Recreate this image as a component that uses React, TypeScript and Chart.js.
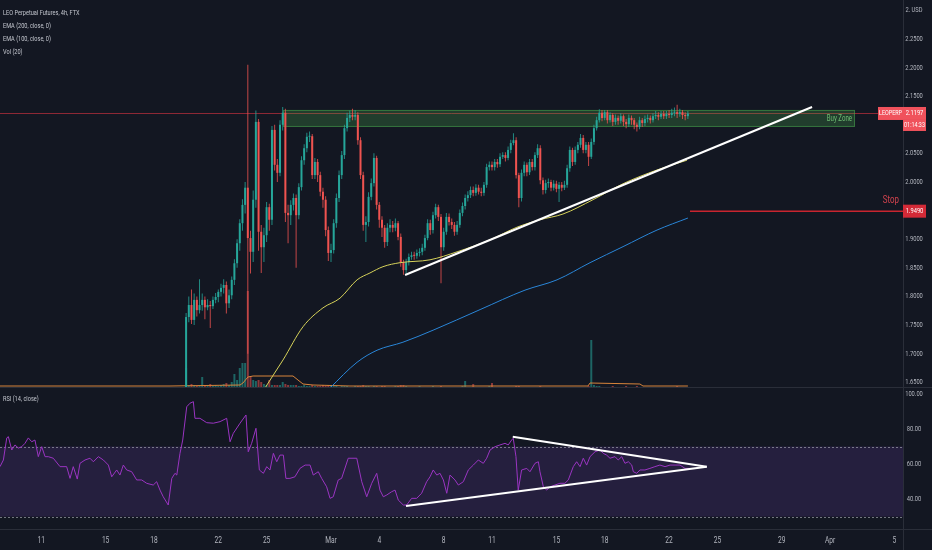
import React, { useEffect, useRef } from 'react';
import { Chart, registerables } from 'chart.js';
Chart.register(...registerables);

// ---------- DATA ----------
const CANDLE_START = -9; // days from Mar 1 00:00 (Feb 20 00:00)
const CANDLE_STEP = 1 / 6; // 4h candles
const firstOpen = 1.64;
const closes = [
  1.764,1.785,1.759,1.794,1.776,1.785,1.794,1.781,1.785,1.783,
  1.794,1.799,1.808,1.815,1.820,1.788,1.802,1.829,1.858,1.893,
  1.928,1.960,1.990,1.902,1.878,1.969,2.105,1.913,1.886,1.907,
  1.956,1.934,2.091,2.030,2.016,2.100,2.121,1.946,1.942,1.960,
  1.972,1.942,1.991,2.038,2.059,2.079,2.080,2.012,2.035,2.012,
  1.983,1.969,1.916,1.876,1.881,1.928,1.972,2.012,2.047,2.094,
  2.112,2.117,2.114,2.117,2.073,2.012,1.925,1.930,1.974,1.998,
  2.042,1.960,1.934,1.920,1.895,1.920,1.925,1.920,1.928,1.904,
  1.860,1.846,1.860,1.869,1.872,1.871,1.876,1.878,1.885,1.902,
  1.928,1.916,1.942,1.956,1.939,1.886,1.913,1.939,1.930,1.925,
  1.913,1.925,1.946,1.958,1.972,1.977,1.986,1.981,1.990,1.983,
  1.981,1.995,2.026,2.030,2.026,2.035,2.031,2.044,2.047,2.042,
  2.056,2.068,2.073,2.012,1.972,2.016,2.030,2.017,2.035,2.026,
  2.047,2.059,2.003,1.986,1.998,2.000,1.990,1.997,1.988,1.995,
  1.990,1.995,2.024,2.056,2.035,2.056,2.065,2.077,2.056,2.065,
  2.044,2.070,2.094,2.108,2.121,2.112,2.122,2.108,2.117,2.105,
  2.112,2.107,2.115,2.105,2.101,2.112,2.108,2.100,2.096,2.108,
  2.103,2.110,2.112,2.108,2.115,2.117,2.114,2.119,2.115,2.119,
  2.117,2.121,2.122,2.119,2.122,2.117,2.115,2.1197,
];
const highs = [
  1.771,1.800,1.812,1.805,1.800,1.830,1.805,1.800,1.795,1.792,
  1.800,1.806,1.812,1.822,1.830,1.826,1.812,1.835,1.865,1.900,
  1.935,1.970,2.000,2.205,1.915,1.985,2.125,2.110,1.925,1.920,
  1.965,1.962,2.098,2.100,2.040,2.108,2.131,2.128,1.960,1.968,
  1.980,1.978,1.998,2.045,2.066,2.086,2.088,2.084,2.042,2.040,
  2.018,1.990,1.975,1.922,1.892,1.935,1.980,2.020,2.054,2.100,
  2.121,2.125,2.128,2.126,2.122,2.078,2.018,1.940,1.982,2.006,
  2.050,2.046,1.965,1.940,1.925,1.928,1.935,1.932,1.936,1.932,
  1.910,1.864,1.866,1.875,1.878,1.878,1.882,1.884,1.892,1.908,
  1.935,1.934,1.948,1.962,1.960,1.944,1.920,1.946,1.945,1.936,
  1.930,1.932,1.952,1.964,1.978,1.984,1.992,1.992,1.996,1.995,
  1.990,2.000,2.032,2.036,2.036,2.040,2.040,2.050,2.052,2.052,
  2.062,2.074,2.085,2.078,2.016,2.022,2.036,2.034,2.040,2.040,
  2.052,2.066,2.064,2.008,2.004,2.006,2.004,2.003,2.002,2.000,
  2.000,2.002,2.030,2.062,2.060,2.062,2.070,2.084,2.082,2.070,
  2.070,2.076,2.100,2.114,2.127,2.126,2.126,2.126,2.122,2.120,
  2.118,2.116,2.120,2.118,2.110,2.118,2.116,2.112,2.104,2.114,
  2.112,2.116,2.118,2.116,2.120,2.124,2.122,2.124,2.124,2.124,
  2.126,2.128,2.130,2.135,2.128,2.126,2.122,2.124,
];
const lows = [
  1.638,1.755,1.752,1.750,1.765,1.770,1.775,1.760,1.776,1.745,
  1.778,1.788,1.790,1.800,1.805,1.770,1.780,1.795,1.820,1.850,
  1.880,1.915,1.945,1.700,1.840,1.860,1.955,1.880,1.841,1.860,
  1.895,1.915,1.925,2.020,2.000,2.010,2.090,1.930,1.893,1.925,
  1.950,1.850,1.935,1.985,2.030,2.052,2.070,2.005,2.005,2.000,
  1.975,1.955,1.905,1.862,1.860,1.875,1.920,1.965,2.005,2.040,
  2.088,2.105,2.108,2.108,2.065,2.005,1.915,1.895,1.922,1.968,
  1.992,1.952,1.920,1.904,1.885,1.888,1.912,1.912,1.914,1.898,
  1.852,1.838,1.840,1.854,1.864,1.864,1.866,1.870,1.872,1.880,
  1.898,1.908,1.910,1.936,1.932,1.823,1.880,1.908,1.924,1.918,
  1.906,1.908,1.920,1.940,1.952,1.966,1.972,1.975,1.976,1.978,
  1.975,1.976,1.990,2.020,2.020,2.020,2.025,2.026,2.040,2.036,
  2.038,2.050,2.064,2.006,1.956,1.966,2.010,2.010,2.012,2.020,
  2.020,2.042,1.996,1.978,1.980,1.990,1.984,1.985,1.982,1.965,
  1.984,1.986,1.990,2.018,2.028,2.030,2.050,2.060,2.050,2.050,
  2.028,2.040,2.065,2.090,2.104,2.106,2.108,2.102,2.104,2.098,
  2.100,2.100,2.102,2.098,2.094,2.096,2.100,2.092,2.088,2.092,
  2.096,2.098,2.104,2.102,2.104,2.110,2.108,2.110,2.110,2.110,
  2.112,2.112,2.115,2.112,2.114,2.110,2.108,2.110,
];
const volumes = [
  20,3,4,3,2,3,11,3,2,4,
  2,3,2,3,4,5,3,6,14,8,
  20,25,25,97,12,8,7,8,6,4,
  3,8,3,3,3,3,6,4,3,3,
  3,3,2,2,3,2,2,3,2,2,
  2,3,2,3,2,2,2,1,2,2,
  2,1,1,2,2,2,3,2,2,1,
  2,2,1,2,2,1,1,1,2,2,
  3,3,2,1,1,1,1,2,1,1,
  1,1,2,1,1,2,1,1,1,1,
  1,1,1,2,7,1,1,4,1,1,
  1,1,1,2,5,1,1,1,1,1,
  1,1,1,2,2,1,1,1,1,1,
  1,1,2,1,1,1,1,1,1,1,
  1,1,1,1,1,1,1,1,1,1,
  2,48,3,2,2,1,1,1,1,2,
  1,1,1,1,2,1,1,1,2,1,
  1,1,1,1,1,1,1,1,1,1,
  1,1,1,2,1,1,1,1,
];
const volMA = [
  [-20.56,2],[-10.0,2],[-5.65,3],[-5.47,5],[-5.16,11],[-4.84,12],[-2.36,12],[-2.05,8],
  [-1.74,4],[-1.12,3],[1.18,2],[15.96,2],[16.09,5],[19.19,4],[19.38,2],[22.17,2],
];
const ema100 = [
  [-4.29,1.631],[-4.10,1.640],[-2.98,1.689],[-1.74,1.747],[-0.50,1.780],[0.56,1.797],
  [1.62,1.829],[2.42,1.841],[3.23,1.852],[4.29,1.859],[6.15,1.864],[7.83,1.878],
  [9.88,1.899],[11.55,1.921],[12.98,1.934],[14.41,1.944],[16.27,1.969],[18.14,1.997],
  [20.25,2.021],[22.11,2.038],
];
const ema200 = [
  [-0.31,1.633],[-0.06,1.640],[1.62,1.685],[2.86,1.706],[4.47,1.720],[6.34,1.741],
  [9.26,1.777],[12.05,1.811],[14.04,1.829],[16.09,1.859],[18.14,1.887],[20.25,1.916],
  [22.17,1.937],
];
const rsi = [
  [-20.56,58.5],[-20.35,62.3],[-20.14,74.9],[-20.04,75.6],[-19.83,68.0],[-19.63,70.9],[-19.42,69.1],
  [-19.21,69.9],[-19.01,71.8],[-18.80,74.9],[-18.59,72.7],[-18.39,73.7],[-18.18,64.2],[-17.97,69.9],
  [-17.76,64.2],[-17.56,64.2],[-17.25,63.3],[-16.83,58.5],[-16.42,58.5],[-16.21,51.8],[-16.01,58.5],
  [-15.76,51.4],[-15.59,60.4],[-15.28,62.3],[-14.97,63.3],[-14.76,61.3],[-14.45,64.2],[-14.14,62.3],
  [-13.83,59.4],[-13.62,52.7],[-13.31,56.6],[-13.11,53.7],[-12.90,59.4],[-12.69,56.6],[-12.38,55.6],
  [-12.07,50.9],[-11.76,50.9],[-11.45,49.0],[-11.04,48.0],[-10.83,49.9],[-10.62,45.1],[-10.42,41.3],
  [-10.11,36.6],[-9.89,51.8],[-9.69,54.7],[-9.58,53.7],[-9.38,66.1],[-9.21,73.7],[-8.96,92.7],
  [-8.76,94.7],[-8.55,95.6],[-8.45,86.1],[-8.14,86.1],[-7.72,83.6],[-7.31,83.3],[-6.89,84.2],
  [-6.48,86.1],[-6.27,72.7],[-6.07,77.5],[-5.65,83.3],[-5.28,88.0],[-5.14,67.0],[-4.93,71.8],
  [-4.66,80.4],[-4.45,56.6],[-4.20,54.7],[-3.99,58.5],[-3.79,56.6],[-3.58,66.1],[-3.37,61.3],
  [-3.17,65.1],[-2.96,65.1],[-2.80,51.8],[-2.55,51.8],[-2.24,52.7],[-1.93,57.5],[-1.61,59.4],
  [-1.30,59.4],[-1.10,53.7],[-0.79,55.6],[-0.58,51.8],[-0.27,47.0],[-0.06,40.4],[0.14,41.3],
  [0.45,50.9],[0.66,51.8],[1.07,63.3],[1.60,63.3],[1.91,49.9],[2.22,41.3],[2.53,49.0],
  [2.84,54.7],[3.04,45.1],[3.25,41.3],[3.46,42.3],[3.77,44.2],[3.98,45.1],[4.18,39.4],
  [4.49,36.6],[4.70,36.6],[5.01,40.4],[5.32,40.4],[5.63,43.3],[5.94,49.9],[6.15,52.7],
  [6.35,56.6],[6.57,53.7],[6.77,54.7],[6.98,50.9],[7.19,43.3],[7.39,53.7],[7.70,50.9],
  [7.91,48.0],[8.22,49.9],[8.53,56.6],[8.84,59.4],[9.15,62.3],[9.46,60.4],[9.67,63.3],
  [9.88,68.0],[10.19,69.9],[10.50,70.9],[10.81,71.8],[11.01,70.9],[11.22,73.7],[11.32,74.7],
  [11.49,64.2],[11.63,45.1],[11.84,56.6],[12.16,57.5],[12.36,55.6],[12.67,60.4],[12.88,61.3],
  [12.98,55.6],[13.19,47.0],[13.40,45.1],[13.60,47.0],[13.91,48.0],[14.22,49.0],[14.53,49.0],
  [14.74,50.9],[15.05,58.5],[15.26,61.3],[15.47,58.5],[15.67,63.3],[15.88,59.4],[16.09,64.2],
  [16.40,67.0],[16.71,68.0],[16.91,66.1],[17.12,65.1],[17.33,63.3],[17.64,64.2],[17.84,62.3],
  [18.06,64.2],[18.26,60.4],[18.47,61.3],[18.68,59.4],[18.78,55.6],[18.99,54.7],[19.19,56.6],
  [19.50,56.6],[19.81,57.5],[20.12,58.5],[20.43,59.4],[20.75,58.5],[21.06,59.4],[21.37,59.4],
  [21.68,59.4],[21.99,57.5],[22.30,57.5],
];
const mainTrend = [[4.6,1.8374],[29.88,2.1311]];
const rsiLower = [[4.66,36.0],[23.34,58.5]];
const rsiUpper = [[11.29,75.6],[23.34,58.5]];
const buyZoneTime = [-2.98, 32.55];
const buyZonePrice = [2.0962, 2.1259];
const stopLevel = 1.949;
const stopFrom = 22.3;
const lastPrice = 2.1197;
const X_RANGE = [-20.56, 35.53];
const PRICE_RANGE = [1.64, 2.318];
const RSI_RANGE = [22.9, 103.4];
const xTickDays = [-18,-14,-11,-7,-4,0,3,7,10,14,17,21,24,28,31,35];
const xTickLabels = ['11','15','18','22','25','Mar','4','8','11','15','18','22','25','29','Apr','5'];
const priceTicks = [2.3,2.25,2.2,2.15,2.05,2.0,1.9,1.85,1.8,1.75,1.7,1.65];
const priceTickLabels = ['2. USD','2.2500','2.2000','2.1500','2.0500','2.0000','1.9000','1.8500','1.8000','1.7500','1.7000','1.6500'];
const rsiTicks = [100,80,60,40];
const legendLines = ['LEO Perpetual Futures, 4h, FTX','EMA (200, close, 0)','EMA (100, close, 0)','Vol (20)'];

// ---------- STYLE ----------
const BG = '#131722';
const UP = '#26a69a';
const DN = '#ef5350';
const TXT = '#b2b5be';
const SEP = '#2a2e39';
const FONT = 'Roboto, "Noto Sans", sans-serif';

function txt(ctx: CanvasRenderingContext2D, s: string, x: number, y: number, size: number, color: string, align: 'left'|'center'|'right' = 'left', sx = 0.78) {
  ctx.save();
  ctx.font = `${size}px ${FONT}`;
  ctx.fillStyle = color;
  ctx.textBaseline = 'middle';
  ctx.textAlign = 'left';
  const w = ctx.measureText(s).width * sx;
  const x0 = align === 'left' ? x : align === 'right' ? x - w : x - w / 2;
  ctx.translate(x0, y);
  ctx.scale(sx, 1);
  ctx.fillText(s, 0, 0);
  ctx.restore();
}

const times = closes.map((_, k) => CANDLE_START + k * CANDLE_STEP);
const opens = closes.map((_, k) => (k === 0 ? firstOpen : closes[k - 1]));
const isUp = closes.map((c, k) => c >= opens[k]);
const pts = (arr: number[][]) => arr.map(([x, y]) => ({ x, y }));

const mainPlugin = {
  id: 'mainDeco',
  beforeDatasetsDraw(chart: any) {
    const { ctx, chartArea: a, scales } = chart;
    const xs = scales.x, ys = scales.y;
    ctx.save();
    const py = Math.round(ys.getPixelForValue(lastPrice)) + 0.5;
    ctx.strokeStyle = 'rgba(242,54,69,0.55)';
    ctx.lineWidth = 1;
    ctx.beginPath(); ctx.moveTo(a.left, py); ctx.lineTo(a.right, py); ctx.stroke();
    const x1 = xs.getPixelForValue(buyZoneTime[0]), x2 = xs.getPixelForValue(buyZoneTime[1]);
    const y1 = ys.getPixelForValue(buyZonePrice[1]), y2 = ys.getPixelForValue(buyZonePrice[0]);
    ctx.fillStyle = 'rgba(76,175,80,0.25)';
    ctx.fillRect(x1, y1, x2 - x1, y2 - y1);
    ctx.strokeStyle = 'rgba(76,175,80,0.5)';
    ctx.strokeRect(x1 + 0.5, y1 + 0.5, x2 - x1 - 1, y2 - y1 - 1);
    ctx.restore();
  },
  afterDraw(chart: any) {
    const { ctx, chartArea: a, scales } = chart;
    const xs = scales.x, ys = scales.y;
    ctx.save();
    ctx.fillStyle = SEP;
    ctx.fillRect(a.right, 0, 1, chart.height);
    ctx.fillRect(0, chart.height - 1, chart.width, 1);
    ctx.restore();
    legendLines.forEach((s, i) => txt(ctx, s, 3, 12.5 + i * 13, 8, '#c3c6ce', 'left', 0.7));
    priceTicks.forEach((v, i) => txt(ctx, priceTickLabels[i], a.right + 11, ys.getPixelForValue(v), 8, TXT, 'center', 0.72));
    const zx2 = xs.getPixelForValue(buyZoneTime[1]);
    const zy = (ys.getPixelForValue(buyZonePrice[0]) + ys.getPixelForValue(buyZonePrice[1])) / 2;
    txt(ctx, 'Buy Zone', zx2 - 3, zy, 8.5, '#6fbf73', 'right', 0.72);
    const py = ys.getPixelForValue(lastPrice);
    ctx.save();
    ctx.fillStyle = '#f0525c';
    ctx.fillRect(a.right - 25, py - 6.5, 25, 13);
    ctx.fillRect(a.right, py - 6.5, 23, 13);
    ctx.fillRect(a.right, py + 6.5, 23, 11);
    ctx.restore();
    txt(ctx, 'LEOPERP', a.right - 12.5, py, 7.5, '#ffffff', 'center', 0.72);
    txt(ctx, lastPrice.toFixed(4), a.right + 11.5, py, 8, '#ffffff', 'center', 0.72);
    txt(ctx, '01:14:33', a.right + 11.5, py + 12, 7.5, '#ffffff', 'center', 0.72);
    const sy = ys.getPixelForValue(stopLevel);
    ctx.save();
    ctx.fillStyle = '#d32a37';
    ctx.fillRect(a.right, sy - 6.5, 23, 13);
    ctx.restore();
    txt(ctx, stopLevel.toFixed(4), a.right + 11.5, sy, 8, '#ffffff', 'center', 0.72);
    txt(ctx, 'Stop', a.right - 4, sy - 11, 11, '#d2434e', 'right', 0.72);
  },
};

const rsiPlugin = {
  id: 'rsiDeco',
  beforeDatasetsDraw(chart: any) {
    const { ctx, chartArea: a, scales } = chart;
    const ys = scales.y;
    const y70 = ys.getPixelForValue(70), y30 = ys.getPixelForValue(30);
    ctx.save();
    ctx.fillStyle = 'rgba(130,70,200,0.17)';
    ctx.fillRect(a.left, y70, a.right - a.left, y30 - y70);
    ctx.strokeStyle = 'rgba(178,181,190,0.6)';
    ctx.lineWidth = 1;
    ctx.setLineDash([2, 2]);
    [y70, y30].forEach((yy) => {
      ctx.beginPath(); ctx.moveTo(a.left, Math.round(yy) + 0.5); ctx.lineTo(a.right, Math.round(yy) + 0.5); ctx.stroke();
    });
    ctx.restore();
  },
  afterDraw(chart: any) {
    const { ctx, chartArea: a, scales } = chart;
    const xs = scales.x, ys = scales.y;
    ctx.save();
    ctx.fillStyle = SEP;
    ctx.fillRect(a.right, 0, 1, chart.height);
    ctx.fillRect(0, a.bottom, chart.width, 1);
    ctx.restore();
    txt(ctx, 'RSI (14, close)', 3, 11, 8, '#c3c6ce', 'left', 0.7);
    rsiTicks.forEach((v) => txt(ctx, v.toFixed(2), a.right + 11, ys.getPixelForValue(v), 8, TXT, 'center', 0.72));
    xTickDays.forEach((d, i) => txt(ctx, xTickLabels[i], xs.getPixelForValue(d), a.bottom + 11.5, 8.5, TXT, 'center', 0.78));
  },
};

function mainConfig(): any {
  const upCol = (a: number) => isUp.map((u) => (u ? `rgba(38,166,154,${a})` : `rgba(239,83,80,${a})`));
  return {
    type: 'bar',
    data: {
      datasets: [
        { type: 'bar', data: volumes.map((v, k) => ({ x: times[k], y: v })), yAxisID: 'yVol', backgroundColor: upCol(0.55), barThickness: 2, grouped: false, borderWidth: 0, inflateAmount: 0, order: 10 },
        { type: 'line', data: pts(volMA), yAxisID: 'yVol', borderColor: '#d9853b', borderWidth: 1, pointRadius: 0, order: 9 },
        { type: 'bar', data: closes.map((_, k) => ({ x: times[k], y: [lows[k], highs[k]] })), backgroundColor: upCol(0.8), barThickness: 1, grouped: false, borderWidth: 0, inflateAmount: 0, order: 8 },
        { type: 'bar', data: closes.map((c, k) => ({ x: times[k], y: [opens[k], c] })), backgroundColor: isUp.map((u) => (u ? UP : DN)), barThickness: 2, minBarLength: 1, grouped: false, borderWidth: 0, inflateAmount: 0, order: 7 },
        { type: 'line', data: pts(ema100), borderColor: '#d6d25a', borderWidth: 1, pointRadius: 0, cubicInterpolationMode: 'monotone', order: 6 },
        { type: 'line', data: pts(ema200), borderColor: '#2a86d8', borderWidth: 1, pointRadius: 0, cubicInterpolationMode: 'monotone', order: 5 },
        { type: 'line', data: [{ x: stopFrom, y: stopLevel }, { x: X_RANGE[1], y: stopLevel }], borderColor: '#c9252f', borderWidth: 1.5, pointRadius: 0, order: 4 },
        { type: 'line', data: pts(mainTrend), borderColor: '#ffffff', borderWidth: 2, pointRadius: 0, order: 3 },
      ],
    },
    options: {
      responsive: false,
      animation: false,
      events: [],
      layout: { padding: { left: 0, right: 29, top: 0, bottom: 0 } },
      plugins: { legend: { display: false }, tooltip: { enabled: false } },
      scales: {
        x: { type: 'linear', min: X_RANGE[0], max: X_RANGE[1], display: false, offset: false },
        y: { type: 'linear', min: PRICE_RANGE[0], max: PRICE_RANGE[1], display: false },
        yVol: { type: 'linear', min: 0, max: 388, display: false },
      },
    },
    plugins: [mainPlugin],
  };
}

function rsiConfig(): any {
  return {
    type: 'line',
    data: {
      datasets: [
        { data: pts(rsi), borderColor: '#9a35c2', borderWidth: 1, pointRadius: 0, order: 3 },
        { data: pts(rsiLower), borderColor: '#ffffff', borderWidth: 2, pointRadius: 0, order: 1 },
        { data: pts(rsiUpper), borderColor: '#ffffff', borderWidth: 2, pointRadius: 0, order: 2 },
      ],
    },
    options: {
      responsive: false,
      animation: false,
      events: [],
      layout: { padding: { left: 0, right: 29, top: 0, bottom: 21 } },
      plugins: { legend: { display: false }, tooltip: { enabled: false } },
      scales: {
        x: { type: 'linear', min: X_RANGE[0], max: X_RANGE[1], display: false, offset: false },
        y: { type: 'linear', min: RSI_RANGE[0], max: RSI_RANGE[1], display: false },
      },
    },
    plugins: [rsiPlugin],
  };
}

export default function App() {
  const mainRef = useRef<HTMLCanvasElement>(null);
  const rsiRef = useRef<HTMLCanvasElement>(null);
  useEffect(() => {
    document.body.style.margin = '0';
    document.body.style.background = BG;
    const m = new Chart(mainRef.current as HTMLCanvasElement, mainConfig());
    const r = new Chart(rsiRef.current as HTMLCanvasElement, rsiConfig());
    return () => { m.destroy(); r.destroy(); };
  }, []);
  return (
    <div style={{ position: 'fixed', left: 0, top: 0, width: 932, height: 550, background: BG, overflow: 'hidden' }}>
      <canvas ref={mainRef} width={932} height={388} style={{ position: 'absolute', left: 0, top: 0, width: 932, height: 388 }} />
      <canvas ref={rsiRef} width={932} height={162} style={{ position: 'absolute', left: 0, top: 388, width: 932, height: 162 }} />
    </div>
  );
}
